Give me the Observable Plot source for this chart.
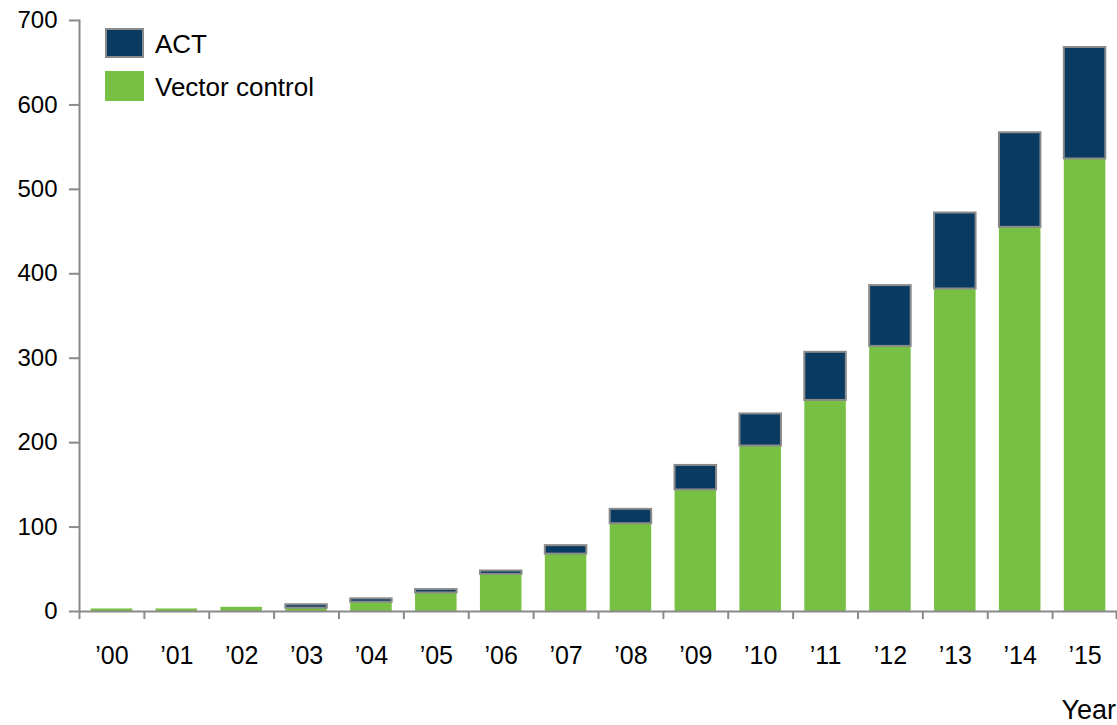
<!DOCTYPE html>
<html>
<head>
<meta charset="utf-8">
<script src="https://cdn.jsdelivr.net/npm/d3@7"></script>
<script src="https://cdn.jsdelivr.net/npm/@observablehq/plot@0.6"></script>
<style>
  body { margin: 0; background: #fff; font-family: "Liberation Sans", Arial, sans-serif; }
  #wrap { position: relative; width: 1117px; height: 725px; }
  #wrap svg { position: absolute; left: 0; top: 0; }
  .lg { position: absolute; font-size: 24px; color: #000; line-height: 24px; transform-origin: left center; white-space: nowrap; }
  .sw { position: absolute; box-sizing: border-box; }
</style>
</head>
<body>
<div id="wrap"></div>
<script>
const years = ["’00","’01","’02","’03","’04","’05","’06","’07","’08","’09","’10","’11","’12","’13","’14","’15"];
const vectorControl = [3, 3, 5, 4, 11, 22, 44, 68, 104, 144, 196, 250, 314, 382, 455, 536];
const act = [0, 0, 0, 4, 4, 4, 4, 10, 17, 29, 38, 57, 72, 90, 112, 132];
const seriesNames = ["Vector control", "ACT"];
const seriesColors = ["#77c043", "#083a62"];
const yTicks = [0, 100, 200, 300, 400, 500, 600, 700];

const rows = [];
years.forEach((y, i) => {
  rows.push({year: y, series: "Vector control", value: vectorControl[i]});
  if (act[i] > 0) rows.push({year: y, series: "ACT", value: act[i]});
});

const W = 1117, H = 725;
const mL = 79, mR = 0, mT = 20, mB = 114;
const step = (W - mL - mR) / years.length;
const grey = "#8a8a8a";

const chart = Plot.plot({
  width: W, height: H,
  marginLeft: mL, marginRight: mR, marginTop: mT, marginBottom: mB,
  style: {fontFamily: "'Liberation Sans', Arial, sans-serif", fontSize: "24px", color: "#000", background: "#fff"},
  x: {domain: years, paddingInner: 0.36, paddingOuter: 0.18, round: false, label: null},
  y: {domain: [0, 700], label: null},
  color: {domain: seriesNames, range: seriesColors},
  marks: [
    Plot.barY(rows, Plot.stackY({
      x: "year", y: "value", fill: "series",
      order: seriesNames,
      stroke: d => d.series === "ACT" ? grey : "none",
      strokeWidth: 2
    })),
    Plot.frame({anchor: "left", stroke: grey, strokeWidth: 2, strokeOpacity: 1}),
    Plot.ruleY([0], {stroke: grey, strokeWidth: 2}),
    Plot.axisY({ticks: yTicks, tickSize: 10, tickPadding: 12, stroke: grey, strokeWidth: 2, fill: "#000", fontSize: 24, label: null}),
    Plot.axisX({tickSize: 8, tickFormat: () => "", dx: -step / 2, stroke: grey, strokeWidth: 2, label: null}),
    Plot.axisX({ticks: [years[years.length - 1]], tickSize: 8, tickFormat: () => "", dx: step / 2 - 1, stroke: grey, strokeWidth: 2, label: null}),
    Plot.axisX({tickSize: 0, tickPadding: 35, fill: "#000", fontSize: 25, label: null})
  ]
});
const wrap = document.getElementById("wrap");
wrap.appendChild(chart);

// legend (inside plot area, top-left)
const legendItems = [
  {name: "ACT", color: seriesColors[1], border: "2px solid " + grey, top: 28},
  {name: "Vector control", color: seriesColors[0], border: "none", top: 71}
];
legendItems.forEach(it => {
  const s = document.createElement("div");
  s.className = "sw";
  s.style.left = "105px"; s.style.top = it.top + "px";
  s.style.width = "39px"; s.style.height = "30px";
  s.style.background = it.color; s.style.border = it.border;
  wrap.appendChild(s);
  const t = document.createElement("div");
  t.className = "lg";
  t.style.fontSize = "25px"; t.style.lineHeight = "25px";
  t.style.transform = "scaleX(1.04)";
  t.style.left = "155px"; t.style.top = (it.top + 4) + "px";
  t.textContent = it.name;
  wrap.appendChild(t);
});
const yl = document.createElement("div");
yl.className = "lg";
yl.style.fontSize = "27px"; yl.style.lineHeight = "27px";
yl.style.right = "1px"; yl.style.top = "697px";
yl.textContent = "Year";
wrap.appendChild(yl);
</script>
</body>
</html>
